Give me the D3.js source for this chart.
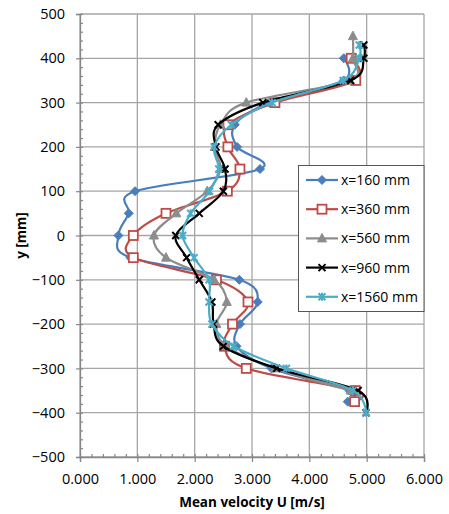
<!DOCTYPE html>
<html>
<head>
<meta charset="utf-8">
<script src="https://cdn.jsdelivr.net/npm/d3@7"></script>
<style>
  html, body { margin: 0; padding: 0; background: #fff; }
  svg { display: block; }
  text { font-family: "Open Sans", "Noto Sans", sans-serif; fill: #000; }
</style>
</head>
<body>
<svg id="chart" width="449" height="514"></svg>
<script>
// ---- data ----
const seriesNames = ["x=160 mm", "x=360 mm", "x=560 mm", "x=960 mm", "x=1560 mm"];

const yBlue  = [400, 350, 300, 250, 200, 150, 100, 50, 0, -50, -100, -150, -200, -250, -300, -350, -375];
const uBlue  = [4.60, 4.60, 3.30, 2.70, 2.74, 3.14, 0.96, 0.85, 0.67, 0.88, 2.78, 3.10, 2.79, 2.73, 3.34, 4.70, 4.67];

const yRed   = [400, 350, 300, 250, 200, 150, 100, 50, 0, -50, -100, -150, -200, -250, -300, -350, -375];
const uRed   = [4.73, 4.81, 3.40, 2.58, 2.58, 2.79, 2.57, 1.50, 0.93, 0.93, 2.38, 2.93, 2.66, 2.52, 2.90, 4.80, 4.79];

const yGray  = [450, 400, 350, 300, 250, 200, 150, 100, 50, 0, -50, -100, -150, -200, -250, -300, -350];
const uGray  = [4.76, 4.76, 4.70, 2.90, 2.45, 2.35, 2.45, 2.22, 1.68, 1.29, 1.50, 2.34, 2.56, 2.38, 2.55, 3.40, 4.72];

const yBlack = [430, 400, 350, 300, 250, 200, 150, 100, 50, 0, -50, -100, -150, -200, -250, -300, -350, -400];
const uBlack = [4.95, 4.95, 4.72, 3.19, 2.41, 2.37, 2.53, 2.50, 2.08, 1.67, 1.86, 2.08, 2.30, 2.33, 2.50, 3.43, 4.85, 4.99];

const yCyan  = [430, 400, 350, 300, 250, 200, 150, 100, 50, 0, -50, -100, -150, -200, -250, -300, -350, -400];
const uCyan  = [4.87, 4.87, 4.59, 3.35, 2.64, 2.34, 2.42, 2.26, 1.93, 1.79, 1.99, 2.25, 2.25, 2.30, 2.68, 3.60, 4.76, 4.99];

const xTicks = [0, 1, 2, 3, 4, 5, 6];
const yTicks = [-500, -400, -300, -200, -100, 0, 100, 200, 300, 400, 500];
const xTitle = "Mean velocity U [m/s]";
const yTitle = "y [mm]";

// ---- styling ----
const colors  = ["#4A7EBB", "#BE4B48", "#8C8C8C", "#000000", "#4BACC6"];
const markers = ["diamond", "square", "triangle", "cross", "star"];

const svg = d3.select("#chart");
const pL = 80, pR = 424, pT = 14, pB = 457;

const x = d3.scaleLinear().domain([0, 6]).range([pL, pR]);
const y = d3.scaleLinear().domain([-500, 500]).range([pB, pT]);

// gridlines
const grid = svg.append("g");
grid.selectAll("line.v").data(xTicks).join("line").attr("class", "v")
  .attr("x1", d => x(d)).attr("x2", d => x(d))
  .attr("y1", pT).attr("y2", pB)
  .attr("stroke", "#A6A6A6").attr("stroke-width", 1.3);
grid.selectAll("line.h").data(yTicks).join("line").attr("class", "h")
  .attr("x1", pL).attr("x2", pR)
  .attr("y1", d => y(d)).attr("y2", d => y(d))
  .attr("stroke", "#A6A6A6").attr("stroke-width", 1.3);

// axes
const axisColor = "#868686";
const xAxis = svg.append("g").attr("transform", `translate(0,${pB})`)
  .call(d3.axisBottom(x).tickValues(xTicks).tickFormat(d3.format(".3f")).tickSize(5).tickPadding(12));
const xMinor = svg.append("g").attr("transform", `translate(0,${pB})`)
  .call(d3.axisBottom(x).tickValues(d3.range(0, 6.001, 0.2)).tickFormat("").tickSize(-3));
const yAxis = svg.append("g").attr("transform", `translate(${pL},0)`)
  .call(d3.axisLeft(y).tickValues(yTicks).tickSize(4).tickPadding(11));
const yMinor = svg.append("g").attr("transform", `translate(${pL},0)`)
  .call(d3.axisLeft(y).tickValues(d3.range(-500, 500.1, 20)).tickFormat("").tickSize(-3));

[xAxis, xMinor, yAxis, yMinor].forEach(g => {
  g.selectAll("path.domain").attr("stroke", axisColor).attr("stroke-width", 1.3);
  g.selectAll(".tick line").attr("stroke", axisColor).attr("stroke-width", 1.2);
});
[xAxis, yAxis].forEach(g => {
  g.selectAll("text").attr("font-size", 14.5).attr("font-family", "'Open Sans', sans-serif").attr("fill", "#000");
});
xMinor.selectAll("path.domain").remove();
yMinor.selectAll("path.domain").remove();

// titles
svg.append("text").attr("x", (pL + pR) / 2).attr("y", 507)
  .attr("text-anchor", "middle").attr("font-size", 13.5).attr("font-weight", "bold")
  .text(xTitle);
svg.append("text").attr("transform", `translate(26,${(pT + pB) / 2}) rotate(-90)`)
  .attr("text-anchor", "middle").attr("font-size", 13.5).attr("font-weight", "bold")
  .text(yTitle);

// marker drawing
function drawMarker(g, type, cx, cy, color) {
  switch (type) {
    case "diamond":
      g.append("path").attr("d", `M${cx},${cy-4.5}L${cx+4.5},${cy}L${cx},${cy+4.5}L${cx-4.5},${cy}Z`)
        .attr("fill", color).attr("stroke", color).attr("stroke-width", 1);
      break;
    case "square":
      g.append("rect").attr("x", cx - 4.5).attr("y", cy - 4.5).attr("width", 9).attr("height", 9)
        .attr("fill", "#fff").attr("stroke", color).attr("stroke-width", 1.8);
      break;
    case "triangle":
      g.append("path").attr("d", `M${cx},${cy-5}L${cx+4.5},${cy+3.5}L${cx-4.5},${cy+3.5}Z`)
        .attr("fill", color).attr("stroke", color).attr("stroke-width", 1);
      break;
    case "cross":
      g.append("path").attr("d", `M${cx-3.5},${cy-3.5}L${cx+3.5},${cy+3.5}M${cx-3.5},${cy+3.5}L${cx+3.5},${cy-3.5}`)
        .attr("fill", "none").attr("stroke", color).attr("stroke-width", 2);
      break;
    case "star":
      g.append("path").attr("d", `M${cx-3.5},${cy-3.5}L${cx+3.5},${cy+3.5}M${cx-3.5},${cy+3.5}L${cx+3.5},${cy-3.5}M${cx},${cy-4}L${cx},${cy+4}`)
        .attr("fill", "none").attr("stroke", color).attr("stroke-width", 2);
      break;
  }
}

const allSeries = [
  { ys: yBlue, us: uBlue },
  { ys: yRed, us: uRed },
  { ys: yGray, us: uGray },
  { ys: yBlack, us: uBlack },
  { ys: yCyan, us: uCyan }
];

const line = d3.line().x(d => x(d[0])).y(d => y(d[1])).curve(d3.curveCatmullRom.alpha(0));

const plot = svg.append("g");
allSeries.forEach((s, i) => {
  const pts = s.us.map((u, k) => [u, s.ys[k]]);
  const g = plot.append("g");
  g.append("path").datum(pts).attr("d", line)
    .attr("fill", "none").attr("stroke", colors[i]).attr("stroke-width", 2.2)
    .attr("stroke-linejoin", "round");
  pts.forEach(p => drawMarker(g, markers[i], x(p[0]), y(p[1]), colors[i]));
});

// legend
const lg = svg.append("g");
lg.append("rect").attr("x", 298.5).attr("y", 165.5).attr("width", 125.5).attr("height", 146)
  .attr("fill", "#fff").attr("stroke", "#555").attr("stroke-width", 1);
seriesNames.forEach((name, i) => {
  const ly = 180 + i * 29.2;
  lg.append("line").attr("x1", 306).attr("x2", 338).attr("y1", ly).attr("y2", ly)
    .attr("stroke", colors[i]).attr("stroke-width", 2.2);
  drawMarker(lg, markers[i], 322, ly, colors[i]);
  lg.append("text").attr("x", 341).attr("y", ly).attr("dy", "0.35em")
    .attr("font-size", 14).text(name);
});
</script>
</body>
</html>
